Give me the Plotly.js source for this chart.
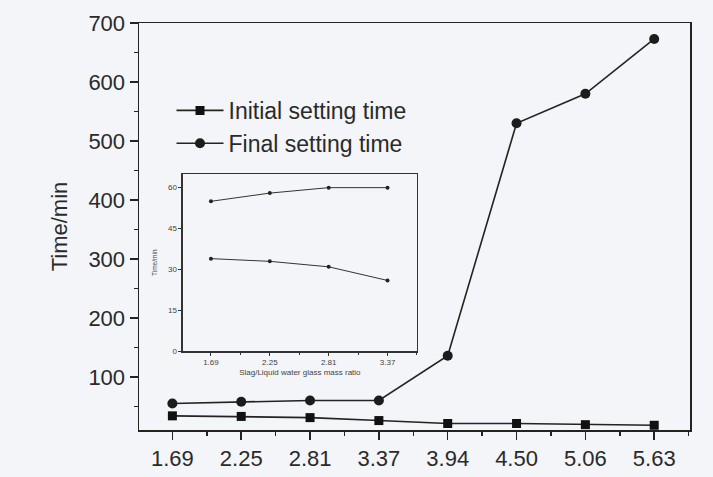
<!DOCTYPE html>
<html>
<head>
<meta charset="utf-8">
<script src="https://cdn.plot.ly/plotly-3.0.1.min.js"></script>
<style>
  html, body { margin: 0; padding: 0; background: #f3f5f8; }
  #chart { width: 713px; height: 477px; }
</style>
</head>
<body>
<div id="chart"></div>
<script>
// Slag/liquid water glass mass ratios (main chart)
const ratioLabels = ["1.69", "2.25", "2.81", "3.37", "3.94", "4.50", "5.06", "5.63"];
const initialSetting = [34, 33, 31, 26, 21, 21, 19, 18];
const finalSetting = [55, 58, 60, 60, 136, 530, 580, 673];

// Inset (first four ratios)
const insetLabels = ["1.69", "2.25", "2.81", "3.37"];
const insetInitial = [34, 33, 31, 26];
const insetFinal = [55, 58, 60, 60];

const yTicks = [100, 200, 300, 400, 500, 600, 700];
const insetYTicks = [0, 15, 30, 45, 60];

const ink = '#232323';
const txt = '#2a2a2a';
const fontFam = '"Liberation Sans", Arial, sans-serif';

const idx = ratioLabels.map((_, i) => i);
const insetIdx = insetLabels.map((_, i) => i);

const traces = [
  {
    x: idx, y: initialSetting, name: 'Initial setting time',
    mode: 'lines+markers', xaxis: 'x', yaxis: 'y',
    line: {color: ink, width: 1.6},
    marker: {symbol: 'square', size: 9, color: '#111'}
  },
  {
    x: idx, y: finalSetting, name: 'Final setting time',
    mode: 'lines+markers', xaxis: 'x', yaxis: 'y',
    line: {color: ink, width: 1.6},
    marker: {symbol: 'circle', size: 10, color: '#1c1c1c'}
  },
  {
    x: insetIdx, y: insetInitial, name: 'inset initial', showlegend: false,
    mode: 'lines+markers', xaxis: 'x2', yaxis: 'y2',
    line: {color: '#333', width: 1},
    marker: {symbol: 'circle', size: 4, color: '#222'}
  },
  {
    x: insetIdx, y: insetFinal, name: 'inset final', showlegend: false,
    mode: 'lines+markers', xaxis: 'x2', yaxis: 'y2',
    line: {color: '#333', width: 1},
    marker: {symbol: 'circle', size: 4, color: '#222'}
  }
];

const layout = {
  width: 713, height: 477,
  paper_bgcolor: '#f3f5f8',
  plot_bgcolor: '#f3f5f8',
  font: {family: fontFam, color: txt, size: 22},
  margin: {l: 139, r: 23, t: 23, b: 47},
  showlegend: true,
  legend: {
    x: 0.059, y: 0.838, xanchor: 'left', yanchor: 'top',
    bgcolor: 'rgba(0,0,0,0)', borderwidth: 0,
    font: {size: 23, color: txt},
    itemwidth: 47
  },
  xaxis: {
    domain: [0, 1],
    range: [-0.485, 7.52],
    tickmode: 'array', tickvals: idx, ticktext: ratioLabels,
    ticks: 'outside', ticklen: 8, tickwidth: 1.5, tickcolor: ink,
    showline: true, linecolor: ink, linewidth: 1.5, mirror: true,
    showgrid: false, zeroline: false,
    tickfont: {size: 22, color: txt},
    minor: {tickmode: 'linear', tick0: 0, dtick: 0.5, ticks: 'outside', ticklen: 4, tickwidth: 1.5, tickcolor: ink, showgrid: false}
  },
  yaxis: {
    domain: [0, 1],
    range: [10, 700],
    tickmode: 'array', tickvals: yTicks,
    ticks: 'outside', ticklen: 8, tickwidth: 1.5, tickcolor: ink,
    showline: true, linecolor: ink, linewidth: 1.5, mirror: true,
    showgrid: false, zeroline: false,
    tickfont: {size: 22, color: txt},
    title: {text: 'Time/min', font: {size: 22, color: txt}, standoff: 14},
    minor: {tickmode: 'linear', tick0: 0, dtick: 50, ticks: 'outside', ticklen: 4, tickwidth: 1.5, tickcolor: ink, showgrid: false}
  },
  xaxis2: {
    anchor: 'y2',
    domain: [0.0793, 0.5045],
    range: [-0.48, 3.5],
    tickmode: 'array', tickvals: insetIdx, ticktext: insetLabels,
    ticks: 'outside', ticklen: 3, tickwidth: 1, tickcolor: '#333',
    showline: true, linecolor: '#333', linewidth: 1.2, mirror: true,
    showgrid: false, zeroline: false,
    tickfont: {size: 8, color: '#444'},
    title: {text: 'Slag/Liquid water glass mass ratio', font: {size: 8, color: '#444'}, standoff: 3},
    minor: {tickmode: 'linear', tick0: 0, dtick: 0.5, ticks: 'outside', ticklen: 2, tickwidth: 1, tickcolor: '#333', showgrid: false}
  },
  yaxis2: {
    anchor: 'x2',
    domain: [0.193, 0.629],
    range: [0, 65],
    tickmode: 'array', tickvals: insetYTicks,
    ticks: 'outside', ticklen: 3, tickwidth: 1, tickcolor: '#333',
    showline: true, linecolor: '#333', linewidth: 1.2, mirror: true,
    showgrid: false, zeroline: false,
    tickfont: {size: 8, color: '#444'},
    title: {text: 'Time/min', font: {size: 6.5, color: '#444'}, standoff: 9}
  }
};

Plotly.newPlot('chart', traces, layout, {displayModeBar: false, staticPlot: true});
</script>
</body>
</html>
